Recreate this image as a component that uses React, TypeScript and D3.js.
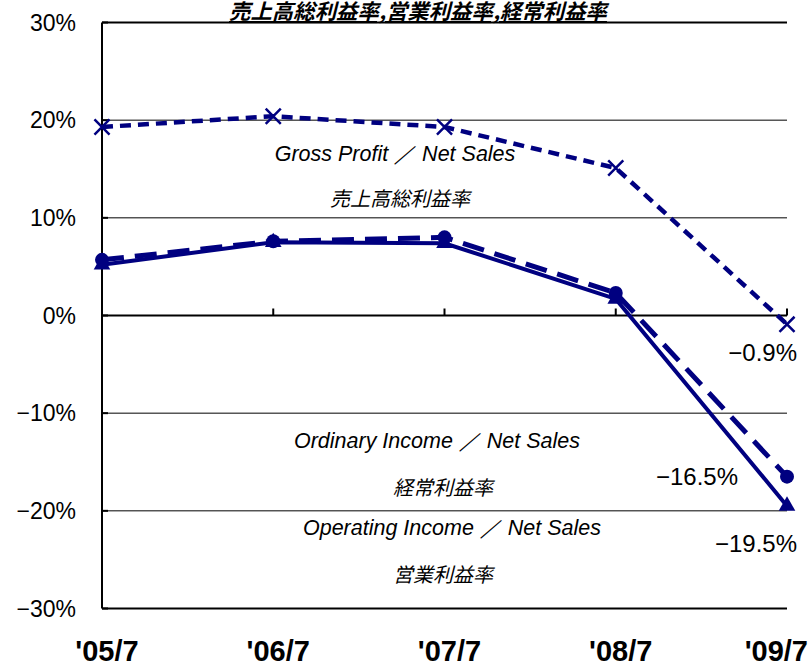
import { useEffect, useRef } from "react"
import * as d3 from "d3"

const periods = ["'05/7", "'06/7", "'07/7", "'08/7", "'09/7"]
const grossMargin = [19.3, 20.4, 19.3, 15.1, -0.9]
const ordinaryMargin = [5.7, 7.6, 8.0, 2.3, -16.5]
const operatingMargin = [5.2, 7.5, 7.4, 1.7, -19.5]
const yTicks = [30, 20, 10, 0, -10, -20, -30]

const NAVY = "#000080"
const NARROW = "'Liberation Sans Narrow', 'Liberation Sans', Arial, sans-serif"
const JP = "'Noto Sans CJK JP', sans-serif"

export default function App() {
  const svgRef = useRef<SVGSVGElement>(null)

  useEffect(() => {
    if (!svgRef.current) return
    const svg = d3.select(svgRef.current)
    svg.selectAll("*").remove()

    const x = d3.scalePoint<string>().domain(periods).range([102, 787])
    const y = d3.scaleLinear().domain([-30, 30]).range([608.5, 22.5])

    // gridlines
    svg
      .append("g")
      .selectAll("line")
      .data(yTicks)
      .join("line")
      .attr("x1", 102)
      .attr("x2", 787)
      .attr("y1", (d) => y(d))
      .attr("y2", (d) => y(d))
      .attr("stroke", "#000")
      .attr("stroke-width", (d) => (d === 0 || Math.abs(d) === 30 ? 2 : 1))

    // left axis
    svg.append("line").attr("x1", 102).attr("x2", 102).attr("y1", y(30)).attr("y2", y(-30)).attr("stroke", "#000").attr("stroke-width", 2)
    svg
      .append("g")
      .selectAll("line")
      .data(yTicks)
      .join("line")
      .attr("x1", 102)
      .attr("x2", 108)
      .attr("y1", (d) => y(d))
      .attr("y2", (d) => y(d))
      .attr("stroke", "#000")
      .attr("stroke-width", 2)
    svg
      .append("g")
      .selectAll("text")
      .data(yTicks)
      .join("text")
      .attr("x", 76)
      .attr("y", (d) => y(d) + 8)
      .attr("text-anchor", "end")
      .attr("font-family", NARROW)
      .attr("font-size", 23)
      .text((d) => (d < 0 ? "\u2212" + Math.abs(d) : d) + "%")

    // category ticks on zero line
    svg
      .append("g")
      .selectAll("line")
      .data(periods.slice(1))
      .join("line")
      .attr("x1", (d) => x(d)!)
      .attr("x2", (d) => x(d)!)
      .attr("y1", y(0))
      .attr("y2", y(0) - 7)
      .attr("stroke", "#000")
      .attr("stroke-width", 2)

    svg
      .append("g")
      .selectAll("text")
      .data(periods)
      .join("text")
      .attr("x", (d, i) => (i === periods.length - 1 ? 808 : x(d)! + 5))
      .attr("y", 661)
      .attr("text-anchor", (d, i) => (i === periods.length - 1 ? "end" : "middle"))
      .attr("font-family", NARROW)
      .attr("font-weight", "bold")
      .attr("font-size", 29)
      .text((d) => d)

    const line = d3
      .line<number>()
      .x((d, i) => x(periods[i])!)
      .y((d) => y(d))

    const drawSeries = (vals: number[], width: number, dash: string | null) => {
      svg
        .append("path")
        .datum(vals)
        .attr("d", line)
        .attr("fill", "none")
        .attr("stroke", NAVY)
        .attr("stroke-width", width)
        .attr("stroke-dasharray", dash)
    }

    drawSeries(operatingMargin, 4, null)
    drawSeries(ordinaryMargin, 5, "22,11")
    drawSeries(grossMargin, 4.5, "11,7")

    // markers
    const tri = d3.symbol().type(d3.symbolTriangle).size(120)
    svg
      .append("g")
      .selectAll("path")
      .data(operatingMargin)
      .join("path")
      .attr("d", tri)
      .attr("transform", (d, i) => `translate(${x(periods[i])},${y(d)})`)
      .attr("fill", NAVY)
    svg
      .append("g")
      .selectAll("circle")
      .data(ordinaryMargin)
      .join("circle")
      .attr("cx", (d, i) => x(periods[i])!)
      .attr("cy", (d) => y(d))
      .attr("r", 7)
      .attr("fill", NAVY)
    const cross = d3.symbol().type(d3.symbolX).size(150)
    svg
      .append("g")
      .selectAll("path")
      .data(grossMargin)
      .join("path")
      .attr("d", cross)
      .attr("transform", (d, i) => `translate(${x(periods[i])},${y(d)})`)
      .attr("fill", "none")
      .attr("stroke", NAVY)
      .attr("stroke-width", 2.5)

    // series labels
    const labels: [string, number, number, string][] = [
      ["Gross Profit \uFF0F Net Sales", 395, 161, NARROW],
      ["売上高総利益率", 400, 206, JP],
      ["Ordinary Income \uFF0F Net Sales", 437, 448, NARROW],
      ["経常利益率", 443, 495, JP],
      ["Operating Income \uFF0F Net Sales", 452, 535, NARROW],
      ["営業利益率", 443, 582, JP],
    ]
    svg
      .append("g")
      .selectAll("text")
      .data(labels)
      .join("text")
      .attr("x", (d) => d[1])
      .attr("y", (d) => d[2])
      .attr("text-anchor", "middle")
      .attr("font-family", (d) => d[3])
      .attr("font-style", "italic")
      .attr("font-size", (d) => (d[3] === JP ? 20 : 21.5))
      .text((d) => d[0])

    // end value labels
    const endLabels: [string, number, number][] = [
      ["\u22120.9%", 797, 361],
      ["\u221216.5%", 738, 485],
      ["\u221219.5%", 797, 552],
    ]
    svg
      .append("g")
      .selectAll("text")
      .data(endLabels)
      .join("text")
      .attr("x", (d) => d[1])
      .attr("y", (d) => d[2])
      .attr("text-anchor", "end")
      .attr("font-family", NARROW)
      .attr("font-size", 24)
      .text((d) => d[0])

    // title
    svg
      .append("text")
      .attr("x", 418)
      .attr("y", 19)
      .attr("text-anchor", "middle")
      .attr("font-family", JP)
      .attr("font-weight", "bold")
      .attr("font-style", "italic")
      .attr("font-size", 21)
      .attr("text-decoration", "underline")
      .attr("transform", "translate(418,19) scale(1.02,1) translate(-418,-19)")
      .text("売上高総利益率,営業利益率,経常利益率")
  }, [])

  return (
    <svg
      ref={svgRef}
      width={811}
      height={668}
      style={{ position: "absolute", left: 0, top: 0, background: "#fff" }}
    />
  )
}
